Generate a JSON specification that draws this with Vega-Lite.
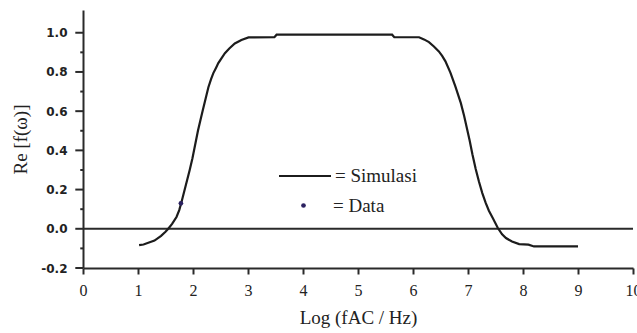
{
  "$schema": "https://vega.github.io/schema/vega-lite/v6.json",
  "width": 550,
  "height": 258,
  "autosize": {"type": "none"},
  "padding": {"left": 83, "top": 10, "right": 4, "bottom": 65},
  "background": "white",
  "config": {
    "view": {"stroke": null},
    "axis": {"grid": false, "domainColor": "#2a2a2a", "domainWidth": 2, "tickColor": "#2a2a2a", "tickWidth": 2, "labelColor": "#222222", "titleColor": "#222222", "titleFont": "Liberation Serif", "titleFontWeight": "normal", "titleFontSize": 19}
  },
  "datasets": {
    "sim": [
      {"logf": 1.02, "re": -0.083}, {"logf": 1.1, "re": -0.08}, {"logf": 1.2, "re": -0.07}, {"logf": 1.3, "re": -0.06},
      {"logf": 1.42, "re": -0.036}, {"logf": 1.5, "re": -0.015}, {"logf": 1.55, "re": 0.0}, {"logf": 1.62, "re": 0.025},
      {"logf": 1.7, "re": 0.06}, {"logf": 1.75, "re": 0.095}, {"logf": 1.79, "re": 0.135}, {"logf": 1.84, "re": 0.19},
      {"logf": 1.89, "re": 0.245}, {"logf": 1.94, "re": 0.3}, {"logf": 1.99, "re": 0.36}, {"logf": 2.04, "re": 0.43},
      {"logf": 2.09, "re": 0.5}, {"logf": 2.14, "re": 0.56}, {"logf": 2.18, "re": 0.607}, {"logf": 2.23, "re": 0.665},
      {"logf": 2.28, "re": 0.722}, {"logf": 2.33, "re": 0.765}, {"logf": 2.37, "re": 0.794}, {"logf": 2.42, "re": 0.822},
      {"logf": 2.46, "re": 0.845}, {"logf": 2.52, "re": 0.871}, {"logf": 2.58, "re": 0.896}, {"logf": 2.66, "re": 0.92},
      {"logf": 2.76, "re": 0.945}, {"logf": 2.88, "re": 0.963}, {"logf": 3.01, "re": 0.976}, {"logf": 3.48, "re": 0.977},
      {"logf": 3.52, "re": 0.99}, {"logf": 5.62, "re": 0.99}, {"logf": 5.66, "re": 0.977}, {"logf": 6.11, "re": 0.977},
      {"logf": 6.2, "re": 0.966}, {"logf": 6.29, "re": 0.952}, {"logf": 6.38, "re": 0.93}, {"logf": 6.47, "re": 0.905},
      {"logf": 6.53, "re": 0.882}, {"logf": 6.59, "re": 0.854}, {"logf": 6.68, "re": 0.797}, {"logf": 6.77, "re": 0.726},
      {"logf": 6.87, "re": 0.641}, {"logf": 6.93, "re": 0.575}, {"logf": 6.98, "re": 0.513}, {"logf": 7.03, "re": 0.45},
      {"logf": 7.08, "re": 0.38}, {"logf": 7.14, "re": 0.305}, {"logf": 7.2, "re": 0.24}, {"logf": 7.26, "re": 0.182},
      {"logf": 7.32, "re": 0.133}, {"logf": 7.38, "re": 0.092}, {"logf": 7.45, "re": 0.055}, {"logf": 7.54, "re": 0.005},
      {"logf": 7.62, "re": -0.028}, {"logf": 7.69, "re": -0.047}, {"logf": 7.8, "re": -0.065}, {"logf": 7.93, "re": -0.078},
      {"logf": 8.1, "re": -0.081}, {"logf": 8.2, "re": -0.09}, {"logf": 9.0, "re": -0.09}
    ],
    "obs": [{"logf": 1.78, "re": 0.13}],
    "zero": [{"z": 0}],
    "major": [{"t": -0.2}, {"t": 0}, {"t": 0.2}, {"t": 0.4}, {"t": 0.6}, {"t": 0.8}, {"t": 1.0}],
    "minor": [{"t": -0.1}, {"t": 0.1}, {"t": 0.3}, {"t": 0.5}, {"t": 0.7}, {"t": 0.9}]
  },
  "layer": [
    {
      "data": {"name": "zero"},
      "mark": {"type": "rule", "color": "#2a2a2a", "strokeWidth": 2},
      "encoding": {"y": {"field": "z", "type": "quantitative", "scale": {"domain": [-0.2, 1.116], "nice": false, "zero": false}, "title": "Re [f(ω)]",
          "axis": {"title": "Re [f(ω)]", "values": [-0.2,0,0.2,0.4,0.6,0.8,1.0],
            "labelExpr": "replace(format(datum.value, '.1f'), '−', '-')",
            "ticks": false,
            "labelFont": "DejaVu Sans", "labelFontWeight": "bold", "labelFontSize": 12, "labelPadding": 16, "labelFlush": false, "titlePadding": 10}}}
    },
    {
      "data": {"name": "major"},
      "mark": {"type": "rule", "color": "#2a2a2a", "strokeWidth": 2, "clip": false},
      "encoding": {"y": {"field": "t", "type": "quantitative", "title": "Re [f(ω)]"}, "x": {"datum": -0.14, "type": "quantitative"}, "x2": {"datum": 0.0}}
    },
    {
      "data": {"name": "minor"},
      "mark": {"type": "rule", "color": "#2a2a2a", "strokeWidth": 2, "clip": false},
      "encoding": {"y": {"field": "t", "type": "quantitative", "title": "Re [f(ω)]"}, "x": {"datum": -0.05, "type": "quantitative"}, "x2": {"datum": 0}}
    },
    {
      "data": {"name": "sim"},
      "mark": {"type": "line", "strokeWidth": 2.2},
      "encoding": {
        "x": {"field": "logf", "type": "quantitative", "scale": {"domain": [0, 10], "nice": false},
          "axis": {"title": "Log (fAC / Hz)", "values": [0,0.5,1,1.5,2,2.5,3,3.5,4,4.5,5,5.5,6,6.5,7,7.5,8,8.5,9,9.5,10],
            "labelExpr": "datum.value % 1 == 0 ? datum.label : ''", "tickSize": 6, "labelFont": "Liberation Serif", "labelFontSize": 16, "labelPadding": 8, "labelFlush": false, "titlePadding": 10}},
        "y": {"field": "re", "type": "quantitative", "title": "Re [f(ω)]"},
        "color": {"datum": "= Simulasi", "type": "nominal", "scale": {"range": ["#1c1c1c"]},
          "legend": {"orient": "none", "legendX": 195, "legendY": 139, "title": null, "symbolType": "stroke", "symbolSize": 2704, "symbolStrokeWidth": 2,
            "labelFont": "Liberation Serif", "labelFontSize": 19, "labelColor": "#222222", "labelOffset": 3}}
      }
    },
    {
      "data": {"name": "obs"},
      "mark": {"type": "point", "filled": true, "size": 22, "opacity": 1},
      "encoding": {
        "x": {"field": "logf", "type": "quantitative"},
        "y": {"field": "re", "type": "quantitative", "title": "Re [f(ω)]"},
        "color": {"value": "#2b2160"},
        "shape": {"datum": "= Data", "type": "nominal", "scale": {"range": ["circle"]},
          "legend": {"orient": "none", "legendX": 211, "legendY": 186, "title": null, "symbolSize": 22, "symbolFillColor": "#2b2160", "symbolStrokeColor": "#2b2160", "symbolOpacity": 1,
            "labelFont": "Liberation Serif", "labelFontSize": 19, "labelColor": "#222222", "labelOffset": 20}}
      }
    }
  ]
}
